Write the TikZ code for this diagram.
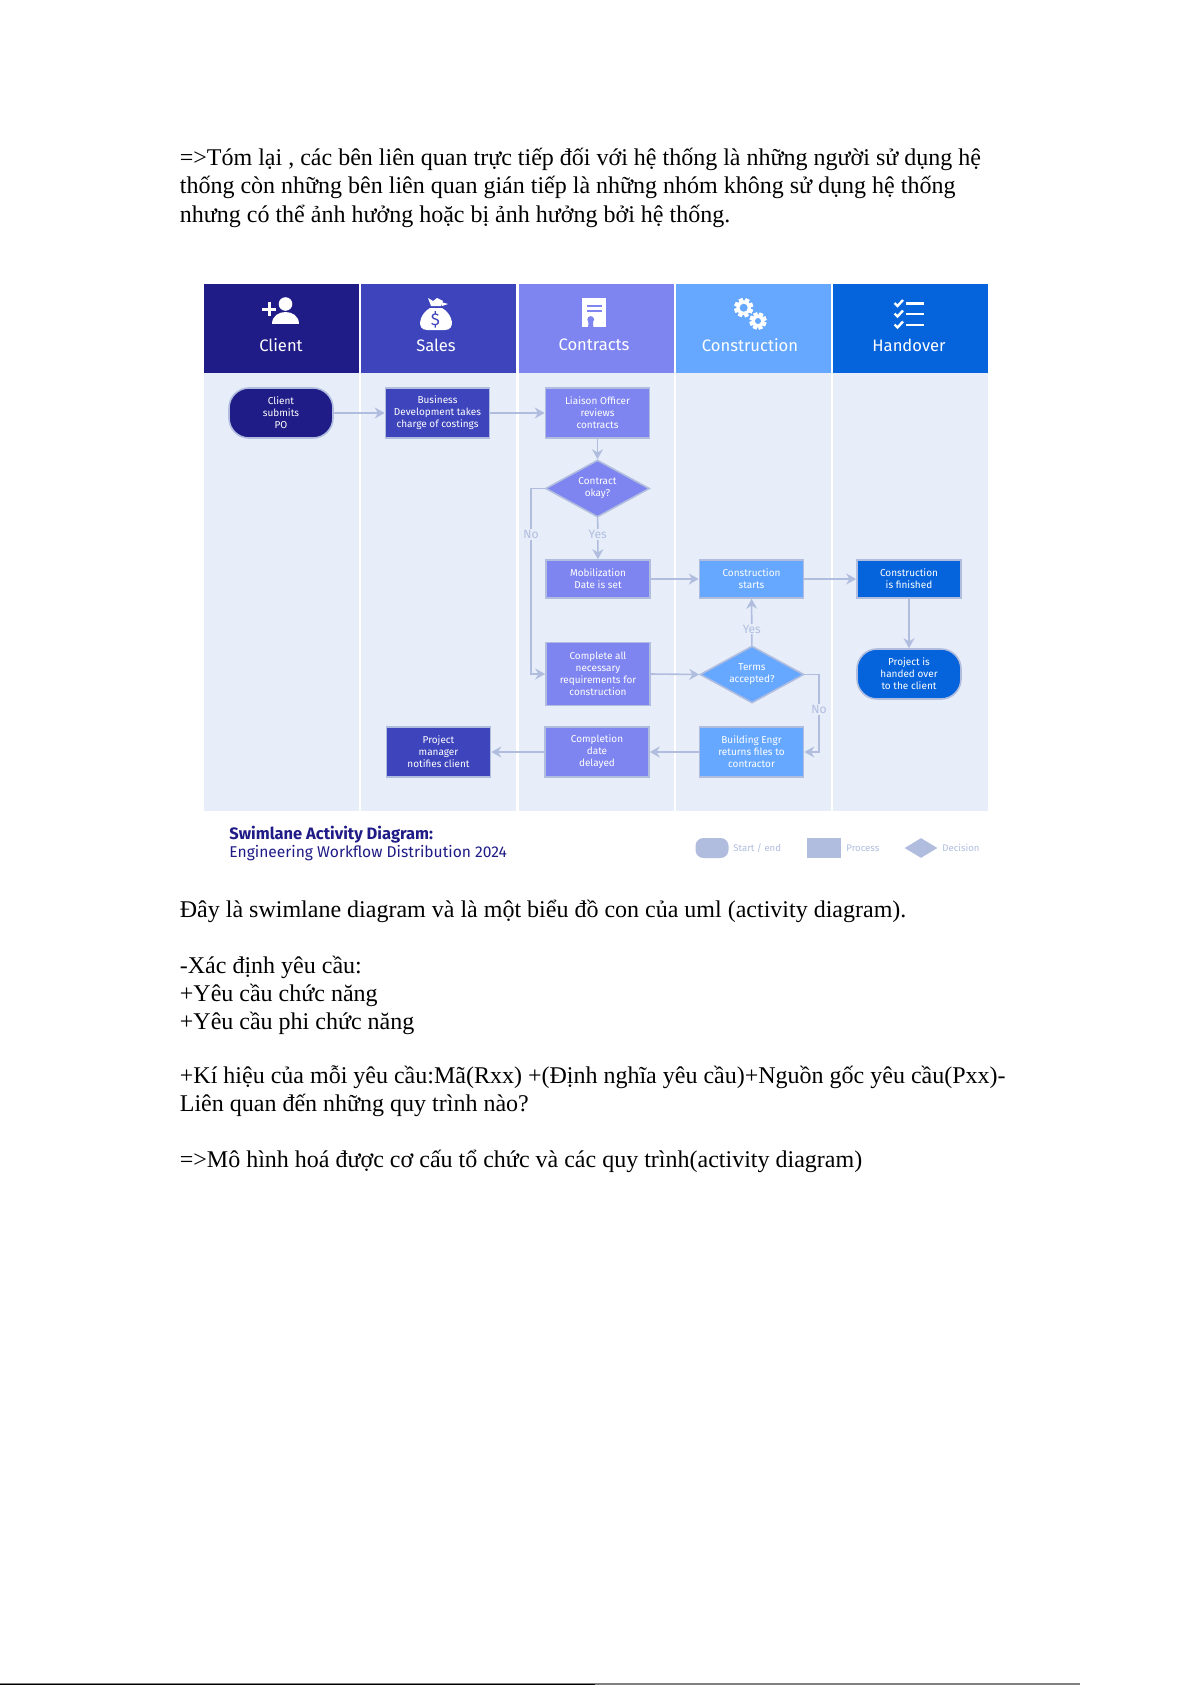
\documentclass[tikz,border=0pt]{standalone}
\usepackage{fontspec}
\setmainfont{Liberation Serif}
\newfontfamily\lanefamily{Fira Sans}
\usetikzlibrary{arrows.meta}
\usetikzlibrary{shapes.geometric}

\definecolor{clientcol}{HTML}{1F1B87}
\definecolor{salescol}{HTML}{3D44BC}
\definecolor{contractcol}{HTML}{7F85F0}
\definecolor{buildcol}{HTML}{66A8FF}
\definecolor{handcol}{HTML}{0563DC}
\definecolor{lanecol}{HTML}{E7EEF9}
\definecolor{flowcol}{HTML}{B0BDDF}

\tikzset{
    bodytext/.style={anchor=base west, inner sep=0, font=\fontsize{12}{14}\selectfont},
    headtext/.style={inner sep=0, text=white, font=\lanefamily\fontsize{8.3}{10}\selectfont},
    procbox/.style={draw=flowcol, line width=0.8pt, minimum width=52pt, inner sep=0, text=white, align=center, font=\lanefamily\fontsize{5}{5.95}\selectfont},
    pillbox/.style={procbox, rounded corners=10pt},
    decbox/.style={procbox, shape=diamond, aspect=1.8, minimum width=52pt, minimum height=28.5pt},
    flow/.style={draw=flowcol, line width=0.8pt, -{Stealth[length=5pt, width=5.5pt]}},
    flowlabel/.style={fill=lanecol, text=flowcol, inner sep=0.6pt, font=\lanefamily\fontsize{6}{7}\selectfont},
    legendtext/.style={anchor=west, inner sep=0, text=flowcol, font=\lanefamily\fontsize{4.8}{6}\selectfont}
}

\newcommand{\gearicon}[3]{
    \foreach \a in {0,45,...,315} {
        \fill[white, rotate around={\a+20:(#1,#2)}] (#1-2,#2-#3) rectangle (#1+2,#2+#3);
    }
    \fill[white] (#1,#2) circle (#3-2.2);
    \fill[buildcol] (#1,#2) circle (#3-5.5);
}

\begin{document}
\begin{tikzpicture}[line cap=round, x=0.5pt, y=-0.5pt]

    \useasboundingbox (0,0) rectangle (1191,1685);
    \fill[white] (0,0) rectangle (1191,1685);

    % text above the diagram
    \node[bodytext] (introa) at (179.5,166) {=>Tóm lại , các bên liên quan trực tiếp đối với hệ thống là những người sử dụng hệ};
    \node[bodytext] (introb) at (179.5,194) {thống còn những bên liên quan gián tiếp là những nhóm không sử dụng hệ thống};
    \node[bodytext] (introc) at (179.5,222) {nhưng có thể ảnh hưởng hoặc bị ảnh hưởng bởi hệ thống.};

    % lanes
    \foreach \xa/\xb/\col in {204/359/clientcol, 361/516/salescol, 519/674/contractcol, 676/831/buildcol, 833/988/handcol} {
        \fill[\col] (\xa,284) rectangle (\xb,373);
        \fill[lanecol] (\xa,373) rectangle (\xb,811);
    }
    \node[headtext] (clienthead) at (281,345) {Client};
    \node[headtext] (saleshead) at (436,345) {Sales};
    \node[headtext] (contracthead) at (594,345) {Contracts};
    \node[headtext] (buildhead) at (750,345) {Construction};
    \node[headtext] (handhead) at (909,345) {Handover};

    % icon: person
    \fill[white] (285.5,304) circle (6.8);
    \fill[white] (272,324) .. controls (272,308) and (299,308) .. (299,324) -- cycle;
    \fill[white] (262,307.5) rectangle (276,310.5);
    \fill[white] (267.5,302) rectangle (270.5,316);

    % icon: bag
    \fill[white] (430,308) .. controls (419,314) and (416,330) .. (427,330) -- (445,330) .. controls (456,330) and (453,314) .. (442,308) -- cycle;
    \fill[white] (428,298) -- (433,301) -- (437,298) -- (443,301) -- (441,306) -- (431,306) -- cycle;
    \fill[white] (441,302) -- (448,304) -- (442,306) -- cycle;
    \node[inner sep=0, text=salescol, font=\lanefamily\fontsize{8.5}{9}\selectfont] (bagsign) at (435.5,320) {\$};

    % icon: sheet
    \fill[white] (582,298) -- (606,298) -- (606,327) -- (582,327) -- cycle;
    \draw[contractcol, line width=0.8pt, line cap=butt] (587,306) -- (602,306) (587,311) -- (602,311);
    \fill[contractcol] (590.7,319.5) circle (3.4);
    \fill[contractcol] (588.5,322) -- (593,322) -- (593.5,329) -- (590.7,327) -- (588,329) -- cycle;

    % icon: gears
    \gearicon{743.7}{307.7}{9.5}
    \gearicon{758}{321}{8.5}

    % icon: list
    \foreach \y in {303,313.5,324.5} {
        \draw[white, line width=1.2pt, line cap=butt] (894.5,\y) -- (897.5,\y+3) -- (903,\y-3);
        \draw[white, line width=1.2pt, line cap=butt] (906,\y+0.5) -- (924,\y+0.5);
    }

    % steps
    \node[pillbox, minimum height=25pt, fill=clientcol] (po) at (281,413) {Client\\submits\\PO};
    \node[procbox, minimum height=25pt, fill=salescol] (costing) at (437.5,413) {Business\\Development takes\\charge of costings};
    \node[procbox, minimum height=25pt, fill=contractcol] (liaison) at (597.5,413) {Liaison Officer\\reviews\\contracts};
    \node[decbox, fill=contractcol] (okay) at (597.5,488.5) {Contract\\okay?};
    \node[procbox, minimum height=19pt, fill=contractcol] (mobil) at (598,579) {Mobilization\\Date is set};
    \node[procbox, minimum height=31.5pt, fill=contractcol] (require) at (598,674) {Complete all\\necessary\\requirements for\\construction};
    \node[procbox, minimum height=25pt, fill=contractcol] (delayed) at (597,752) {Completion\\date\\delayed};
    \node[procbox, minimum height=25pt, fill=salescol] (notify) at (438.5,752) {Project\\manager\\notifies client};
    \node[procbox, minimum height=19pt, fill=buildcol] (starts) at (751.5,579) {Construction\\starts};
    \node[decbox, fill=buildcol] (terms) at (752,674.5) {Terms\\accepted?};
    \node[procbox, minimum height=25pt, fill=buildcol] (returns) at (751.5,752) {Building Engr\\returns files to\\contractor};
    \node[procbox, minimum height=19pt, fill=handcol] (finished) at (909,579) {Construction\\is finished};
    \node[pillbox, minimum height=25pt, fill=handcol] (handed) at (909,674) {Project is\\handed over\\to the client};

    \coordinate (nobend) at (531,488.5);
    \coordinate (termsbend) at (819,674.5);

    % flows
    \draw[flow] (po) -- (costing);
    \draw[flow] (costing) -- (liaison);
    \draw[flow] (liaison) -- (okay);
    \draw[flow] (okay) -- node[flowlabel, pos=0.4] {Yes} (mobil);
    \draw[flow] (okay.west) -- (nobend) |- node[flowlabel, pos=0.125] {No} (require.west);
    \draw[flow] (mobil) -- (starts);
    \draw[flow] (starts) -- (finished);
    \draw[flow] (finished) -- (handed);
    \draw[flow] (require.east) -- (terms.west);
    \draw[flow] (terms) -- node[flowlabel, pos=0.35] {Yes} (starts);
    \draw[flow] (terms.east) -- (termsbend) |- node[flowlabel, pos=0.225] {No} (returns.east);
    \draw[flow] (returns) -- (delayed);
    \draw[flow] (delayed) -- (notify);

    % caption and legend
    \node[anchor=base west, inner sep=0, text=clientcol, font=\lanefamily\bfseries\fontsize{8.25}{9}\selectfont] (captiona) at (229,839.5) {Swimlane Activity Diagram:};
    \node[anchor=base west, inner sep=0, text=clientcol, font=\lanefamily\fontsize{7.8}{9}\selectfont] (captionb) at (229,857) {Engineering Workflow Distribution 2024};
    \node[fill=flowcol, rounded corners=4pt, minimum width=16.5pt, minimum height=10pt, inner sep=0] (keypill) at (712,848) {};
    \node[legendtext] (keypilltext) at (733,848) {Start / end};
    \node[fill=flowcol, minimum width=17pt, minimum height=10pt, inner sep=0] (keybox) at (824,848) {};
    \node[legendtext] (keyboxtext) at (846,848) {Process};
    \node[fill=flowcol, shape=diamond, aspect=1.6, minimum width=16.5pt, minimum height=10pt, inner sep=0] (keydec) at (921,848) {};
    \node[legendtext] (keydectext) at (942,848) {Decision};

    % text below the diagram
    \node[bodytext] (noteswim) at (179.5,917) {Đây là swimlane diagram và là một biểu đồ con của uml (activity diagram).};
    \node[bodytext] (notereq) at (179.5,973) {-Xác định yêu cầu:};
    \node[bodytext] (notefunc) at (179.5,1001) {+Yêu cầu chức năng};
    \node[bodytext] (notenon) at (179.5,1029) {+Yêu cầu phi chức năng};
    \node[bodytext] (notekeya) at (179.5,1083) {+Kí hiệu của mỗi yêu cầu:Mã(Rxx) +(Định nghĩa yêu cầu)+Nguồn gốc yêu cầu(Pxx)-};
    \node[bodytext] (notekeyb) at (179.5,1111) {Liên quan đến những quy trình nào?};
    \node[bodytext] (notemodel) at (179.5,1167) {=>Mô hình hoá được cơ cấu tổ chức và các quy trình(activity diagram)};

    % page edge
    \fill[gray] (0,1682.7) rectangle (1080,1685);
    \fill[black] (0,1683.6) rectangle (595,1685);

\end{tikzpicture}
\end{document}
